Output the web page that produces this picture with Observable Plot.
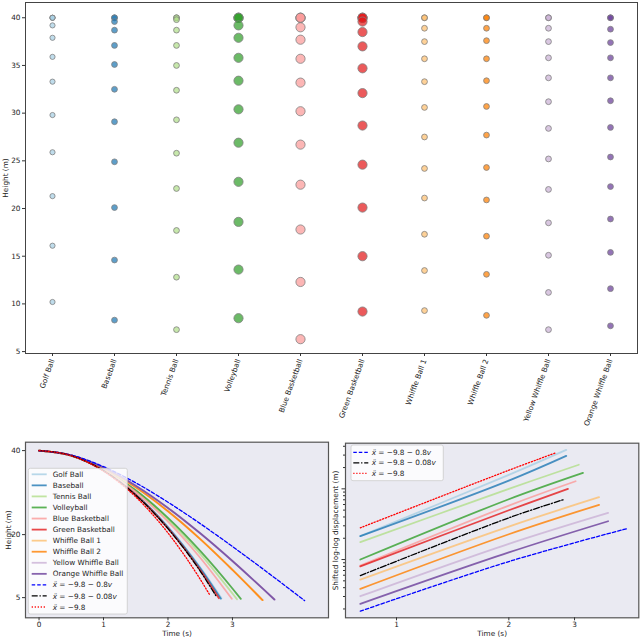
<!DOCTYPE html>
<html><head><meta charset="utf-8">
<script src="https://cdn.jsdelivr.net/npm/d3@7"></script>
<script src="https://cdn.jsdelivr.net/npm/@observablehq/plot@0.6"></script>
<style>
body{margin:0;background:#fff;font-family:"DejaVu Sans",sans-serif;}
#wrap{position:relative;width:640px;height:640px;overflow:hidden;}
</style></head><body><div id="wrap"></div>
<script>
// ---------- data ----------
const balls = ["Golf Ball","Baseball","Tennis Ball","Volleyball","Blue Basketball","Green Basketball","Whiffle Ball 1","Whiffle Ball 2","Yellow Whiffle Ball","Orange Whiffle Ball"];
const colors = ["#a6cee3","#1f78b4","#b2df8a","#33a02c","#fb9a99","#e31a1c","#fdbf6f","#ff7f00","#cab2d6","#6a3d9a"];

// top panel: sampled heights (m)
const golfH     = [40,40,40,39.2,37.9,35.9,33.3,29.8,25.9,21.3,16.1,10.2];
const baseballH = [40,40,39.6,38.7,37.1,35.1,32.5,29.1,24.9,20.1,14.6,8.3];
const tennisH   = [40,40,39.8,38.7,37.1,35.0,32.4,29.3,25.8,22.1,17.7,12.8,7.3];
const volleyH   = [40,40,40,39.2,37.9,35.8,33.4,30.4,26.9,22.8,18.6,13.6,8.5];
const blueBH    = [40,40,40,39.0,37.7,35.7,33.2,30.2,26.7,22.5,17.8,12.3,6.3];
const greenBH   = [40,40,40,39.6,38.5,37.0,34.7,32.1,28.7,24.6,20.1,15.0,9.2];
const whiffle1H = [40,40,38.9,37.5,35.7,33.3,30.6,27.5,24.2,21.1,17.3,13.5,9.3];
const whiffle2H = [40,40,38.9,37.6,35.7,33.4,30.7,27.7,24.3,20.9,17.1,13.1,8.8];
const yellowH   = [40,40,38.9,37.5,35.8,33.7,31.2,28.4,25.2,22.0,18.5,15.1,11.2,7.3];
const orangeH   = [40,40,38.8,37.4,35.8,33.7,31.3,28.5,25.4,22.3,18.9,15.4,11.6,7.7];
const heights = [golfH,baseballH,tennisH,volleyH,blueBH,greenBH,whiffle1H,whiffle2H,yellowH,orangeH];
const topTicks = [5,10,15,20,25,30,35,40];

// bottom-left: height vs time
const golfT=[0,0.5,1,1.5,2,2.5,2.83],        golfY=[40,38.80,35.29,29.61,21.88,12.22,4.85];
const baseT=[0,0.5,1,1.5,2,2.5,2.82],        baseY=[40,38.80,35.27,29.56,21.76,12.00,4.76];
const tennT=[0,0.5,1,1.5,2,2.5,3.07],        tennY=[40,38.83,35.53,30.37,23.60,15.43,4.63];
const vollT=[0,0.5,1,1.5,2,2.5,3,3.13],      vollY=[40,38.84,35.58,30.55,23.99,16.14,7.18,4.70];
const bbbT=[0,0.5,1,1.5,2,2.5,2.99],         bbbY=[40,38.82,35.45,30.14,23.09,14.49,4.72];
const gbbT=[0,0.5,1,1.5,2,2.5,2.79],         gbbY=[40,38.79,35.24,29.45,21.52,11.55,4.84];
const wh1T=[0,0.5,1,1.5,2,2.5,3,3.46],       wh1Y=[40,38.87,35.82,31.28,25.58,18.97,11.65,4.43];
const wh2T=[0,0.5,1,1.5,2,2.5,3,3.47],       wh2Y=[40,38.87,35.80,31.25,25.55,18.93,11.60,4.40];
const yelT=[0,0.5,1,1.5,2,2.5,3,3.5,3.66],   yelY=[40,38.89,35.95,31.65,26.36,20.32,13.72,6.72,4.50];
const oraT=[0,0.5,1,1.5,2,2.5,3,3.5,3.65],   oraY=[40,38.89,35.95,31.65,26.36,20.32,13.72,6.72,4.56];
const m08T=[0,0.5,1,1.5,2,2.5,3,3.5,4.12],   m08Y=[40,38.92,36.18,32.33,27.72,22.62,17.17,11.51,4.28];
const m008T=[0,0.5,1,1.5,2,2.5,2.74],        m008Y=[40,38.79,35.23,29.40,21.41,11.32,5.52];
const m0T=[0,0.5,1,1.5,2,2.5,2.65],          m0Y=[40,38.78,35.10,28.98,20.40,9.38,5.59];
const ballT=[golfT,baseT,tennT,vollT,bbbT,gbbT,wh1T,wh2T,yelT,oraT];
const ballY=[golfY,baseY,tennY,vollY,bbbY,gbbY,wh1Y,wh2Y,yelY,oraY];
const leftXTicks=[0,1,2,3], leftYTicks=[5,20,40];

// bottom-right: shifted displacement (log-log)
const lgGolfT=[0.8,2,2.85], lgGolfY=[2.14,15.78,35.6];
const lgBaseT=[0.8,2,2.85], lgBaseY=[2.14,13.1,29.3];
const lgTennT=[0.8,2,3.08], lgTennY=[1.76,10.0,21.9];
const lgVollT=[0.8,2,3.16], lgVollY=[1.0,7.13,16.8];
const lgBbbT=[0.8,2,3.02],  lgBbbY=[0.82,5.80,12.8];
const lgGbbT=[0.8,2,2.88],  lgGbbY=[0.80,4.98,10.0];
const lgWh1T=[0.8,2,3.49],  lgWh1Y=[0.52,2.93,7.61];
const lgWh2T=[0.8,2,3.49],  lgWh2Y=[0.385,2.28,5.94];
const lgYelT=[0.8,2,3.69],  lgYelY=[0.303,1.67,4.58];
const lgOraT=[0.8,2,3.69],  lgOraY=[0.236,1.26,3.48];
const lgM08T=[0.8,2,4.13],  lgM08Y=[0.186,0.937,2.72];
const lgM008T=[0.8,2,2.81], lgM008Y=[0.594,3.89,7.06];
const lgM0T=[0.8,2,2.67],   lgM0Y=[2.81,18.33,32.3];
const lgBallT=[lgGolfT,lgBaseT,lgTennT,lgVollT,lgBbbT,lgGbbT,lgWh1T,lgWh2T,lgYelT,lgOraT];
const lgBallY=[lgGolfY,lgBaseY,lgTennY,lgVollY,lgBbbY,lgGbbY,lgWh1Y,lgWh2Y,lgYelY,lgOraY];
const rightXTicks=[1,2,3];
const rightMajor=[1,10];
const rightMinor=[0.2,0.3,0.4,0.5,0.6,0.7,0.8,0.9,2,3,4,5,6,7,8,9,20,30,40];

const modelLabels=[["x\u0308"," = \u22129.8 \u2212 0.8","v"],["x\u0308"," = \u22129.8 \u2212 0.08","v"],["x\u0308"," = \u22129.8",""]];

// ---------- styles ----------
const dotR = [2.6,2.9,2.9,4.6,4.6,4.6,2.9,2.9,2.9,2.9];
const models = [
  {color:"#0000ff", dash:"3.5,2", w:1.3},
  {color:"#000000", dash:"6,1.8,1.3,1.8", w:1.3},
  {color:"#ff0000", dash:"1.2,1.8", w:1.3}
];
const FONT = "DejaVu Sans";
const FS = "7.3px";
const wrap = document.getElementById("wrap");
function place(el,l,t){el.style.position="absolute";el.style.left=l+"px";el.style.top=t+"px";wrap.appendChild(el);}
const zip=(T,Y)=>T.map((t,i)=>({t,h:Y[i]}));
const baseStyle={fontFamily:FONT,fontSize:FS,background:"transparent",color:"#222",overflow:"visible"};

// ---------- top panel ----------
const topPlot = Plot.plot({
  width:640,height:440,marginLeft:25,marginRight:3,marginTop:2,marginBottom:87,
  style:baseStyle,
  x:{type:"point",domain:balls,padding:0.43,axis:null},
  y:{domain:[4.8,41.6],axis:null},
  marks:[
    Plot.frame({stroke:"#444",strokeWidth:1}),
    Plot.axisY({ticks:topTicks,tickSize:3,tickPadding:2,label:null,stroke:"#333"}),
    Plot.axisX({tickRotate:-70,tickSize:3,tickPadding:3,label:null,stroke:"#333"}),
    ...balls.map((b,i)=>Plot.dot(heights[i].map(h=>({ball:b,h})),{x:"ball",y:"h",r:dotR[i],fill:colors[i],fillOpacity:0.72,stroke:"#808080",strokeWidth:0.8})),
    Plot.text(["Height (m)"],{frameAnchor:"left",textAnchor:"middle",rotate:-90,dx:-20,text:d=>d,fill:"#222"})
  ]
});
place(topPlot,0,0);

// ---------- bottom-left ----------
const blPlot = Plot.plot({
  width:330,height:200,marginLeft:25,marginRight:2,marginTop:1.7,marginBottom:22.7,
  style:baseStyle,
  x:{domain:[-0.21,4.49],axis:null},
  y:{domain:[0.2,42],axis:null},
  marks:[
    Plot.frame({fill:"#eaeaf2"}),
    ...balls.map((b,i)=>Plot.line(zip(ballT[i],ballY[i]),{x:"t",y:"h",stroke:colors[i],strokeOpacity:0.8,strokeWidth:1.8,curve:"monotone-x"})),
    ...[[m08T,m08Y],[m008T,m008Y],[m0T,m0Y]].map(([T,Y],j)=>Plot.line(zip(T,Y),{x:"t",y:"h",stroke:models[j].color,strokeWidth:models[j].w,strokeDasharray:models[j].dash,curve:"monotone-x"})),
    Plot.frame({stroke:"#555",strokeWidth:1.2}),
    Plot.axisX({ticks:leftXTicks,tickFormat:d=>String(d),tickSize:3,tickPadding:1,label:null,stroke:"#333"}),
    Plot.axisY({ticks:leftYTicks,tickFormat:d=>String(d),tickSize:3,tickPadding:2,label:null,stroke:"#333"}),
    Plot.text(["Time (s)"],{frameAnchor:"bottom",dy:18.5,text:d=>d,fill:"#222"}),
    Plot.text(["Height (m)"],{frameAnchor:"left",textAnchor:"middle",rotate:-90,dx:-17,text:d=>d,fill:"#222"})
  ]
});
place(blPlot,0,440);

// ---------- bottom-right ----------
const brPlot = Plot.plot({
  width:310,height:200,marginLeft:15,marginRight:1.7,marginTop:2.7,marginBottom:22.7,
  style:baseStyle,
  x:{type:"log",domain:[0.73,4.46],axis:null},
  y:{type:"log",domain:[0.15,44.2],axis:null},
  marks:[
    Plot.frame({fill:"#eaeaf2"}),
    ...balls.map((b,i)=>Plot.line(zip(lgBallT[i],lgBallY[i]),{x:"t",y:"h",stroke:colors[i],strokeOpacity:0.8,strokeWidth:1.8,curve:"catmull-rom"})),
    ...[[lgM08T,lgM08Y],[lgM008T,lgM008Y],[lgM0T,lgM0Y]].map(([T,Y],j)=>Plot.line(zip(T,Y),{x:"t",y:"h",stroke:models[j].color,strokeWidth:models[j].w,strokeDasharray:models[j].dash,curve:"catmull-rom"})),
    Plot.frame({stroke:"#555",strokeWidth:1.2}),
    Plot.axisX({ticks:rightXTicks,tickFormat:d=>String(d),tickSize:3,tickPadding:1,label:null,stroke:"#333"}),
    Plot.axisY({ticks:rightMajor,tickFormat:()=>"",tickSize:3.5,label:null,stroke:"#333"}),
    Plot.axisY({ticks:rightMinor,tickFormat:()=>"",tickSize:2,label:null,stroke:"#333"}),
    Plot.text(["Time (s)"],{frameAnchor:"bottom",dy:18.5,text:d=>d,fill:"#222"}),
    Plot.text(["Shifted log-log displacement (m)"],{frameAnchor:"left",textAnchor:"middle",rotate:-90,dx:-10,text:d=>d,fill:"#222"})
  ]
});
place(brPlot,330,440);

// ---------- legends ----------
const ov = d3.create("svg").attr("width",640).attr("height",640)
  .style("position","absolute").style("left","0px").style("top","0px")
  .style("font-family",FONT).style("font-size",FS).style("pointer-events","none");
function mathText(g,x,y,parts){
  const t=g.append("text").attr("x",x).attr("y",y).attr("dy","0.35em").attr("fill","#222");
  t.append("tspan").style("font-style","italic").text(parts[0]);
  t.append("tspan").text(parts[1]);
  if(parts[2]) t.append("tspan").style("font-style","italic").text(parts[2]);
}
function legend(box,rows,rowY0,rowDy,lx0,lx1,tx){
  const g=ov.append("g");
  g.append("rect").attr("x",box[0]).attr("y",box[1]).attr("width",box[2]).attr("height",box[3])
   .attr("rx",2).attr("fill","#ffffff").attr("fill-opacity",0.8).attr("stroke","#cccccc").attr("stroke-width",0.8);
  rows.forEach((r,i)=>{
    const y=rowY0+i*rowDy;
    g.append("line").attr("x1",lx0).attr("x2",lx1).attr("y1",y).attr("y2",y)
     .attr("stroke",r.color).attr("stroke-width",r.w).attr("stroke-opacity",r.op)
     .attr("stroke-dasharray",r.dash||null);
    if(r.math) mathText(g,tx,y,r.math);
    else g.append("text").attr("x",tx).attr("y",y).attr("dy","0.35em").attr("fill","#222").text(r.label);
  });
}
const leftRows = balls.map((b,i)=>({label:b,color:colors[i],w:1.8,op:0.8}))
  .concat(models.map((m,j)=>({math:modelLabels[j],color:m.color,w:m.w,op:1,dash:m.dash})));
legend([28.3,468.3,99,145.7],leftRows,474.3,11.06,31.7,46.7,52.7);
const rightRows = models.map((m,j)=>({math:modelLabels[j],color:m.color,w:m.w,op:1,dash:m.dash}));
legend([351,445,92.3,35.7],rightRows,452.3,10.5,353.3,368.3,371.7);
wrap.appendChild(ov.node());
</script></body></html>
